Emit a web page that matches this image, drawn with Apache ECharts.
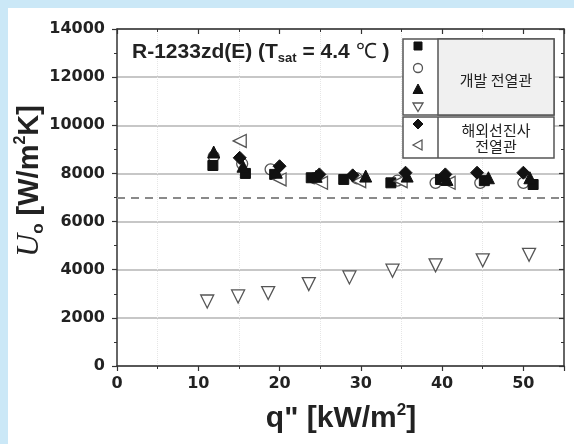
<!DOCTYPE html>
<html>
<head>
<meta charset="utf-8">
<script src="https://cdn.jsdelivr.net/npm/echarts@6/dist/echarts.min.js"></script>
<style>
  html, body { margin: 0; padding: 0; background: #cbe8f7; }
  #panel { position: absolute; left: 8px; top: 8px; width: 566px; height: 436px; background: #fff; }
  #chart { position: absolute; left: 0; top: 0; width: 574px; height: 444px; }
</style>
</head>
<body>
<div id="panel"></div>
<div id="chart"></div>
<script>
// [q'' (kW/m2), Uo (W/m2K)]
const devSquare = [[11.8, 8330], [15.8, 8000], [19.4, 7960], [23.9, 7820], [27.9, 7750], [33.7, 7610], [39.8, 7750], [45.2, 7700], [51.2, 7540]]
const devCircle = [[11.9, 8700], [15.4, 8400], [18.9, 8170], [24.3, 7800], [29.5, 7800], [34.5, 7700], [39.2, 7610], [44.7, 7610], [50.0, 7610]]
const devTriangle = [[11.9, 8890], [15.5, 8300], [19.6, 8050], [24.5, 7880], [30.6, 7890], [35.7, 7890], [40.6, 7750], [45.7, 7820], [50.8, 7820]]
const devDownTri = [[11.1, 2680], [14.9, 2890], [18.6, 3030], [23.6, 3400], [28.6, 3680], [33.9, 3960], [39.2, 4180], [45.0, 4390], [50.7, 4620]]
const frnDiamond = [[15.1, 8650], [20.0, 8300], [24.9, 7960], [29.0, 7920], [35.5, 8030], [40.4, 7960], [44.3, 8030], [50.0, 8030]]
const frnLeftTri = [[15.1, 9350], [20.0, 7750], [25.1, 7610], [29.8, 7680], [34.9, 7680], [40.8, 7610]]
const refLine = 7000

const font = 'Liberation Sans, Arial, sans-serif'
const kr = 'Noto Sans CJK KR, sans-serif'
const solid = { color: '#111', borderColor: '#111', borderWidth: 1, opacity: 1 }
const open = { color: '#fff', borderColor: '#555', borderWidth: 1.3, opacity: 1 }
const solidG = { fill: '#111', stroke: '#111', lineWidth: 1 }
const openG = { fill: '#fff', stroke: '#555', lineWidth: 1.3 }

const chart = echarts.init(document.getElementById('chart'))

const axisCommonX = {
  type: 'value', min: 0, max: 55, interval: 10,
  axisLine: { show: true, onZero: false, lineStyle: { color: '#333', width: 1.5 } },
  minorTick: { show: true, splitNumber: 2, length: 3, lineStyle: { color: '#333' } }
}
const axisCommonY = {
  type: 'value', min: 0, max: 14000, interval: 2000,
  axisLine: { show: true, onZero: false, lineStyle: { color: '#333', width: 1.5 } },
  minorTick: { show: true, splitNumber: 2, length: 3, lineStyle: { color: '#333' } }
}
// wide bold face for tick numbers
const tickFont = { fontFamily: 'DejaVu Sans', fontWeight: 'bold', fontSize: 16, color: '#222' }

chart.setOption({
  animation: false,
  grid: { left: 117, top: 29, right: 10, bottom: 78 },
  xAxis: [Object.assign({}, axisCommonX, {
    position: 'bottom',
    axisTick: { length: 5, lineStyle: { color: '#333', width: 1.2 } },
    axisLabel: Object.assign({ margin: 10, showMaxLabel: false, formatter: v => (v % 10 === 0 ? String(v) : '') }, tickFont),
    splitLine: { show: false },
    minorSplitLine: { show: true, lineStyle: { color: '#e6e6e6', type: 'dotted' } }
  }), Object.assign({}, axisCommonX, {
    position: 'top',
    axisTick: { inside: true, length: 5, lineStyle: { color: '#333', width: 1.2 } },
    axisLabel: { show: false },
    splitLine: { show: false }
  })],
  yAxis: [Object.assign({}, axisCommonY, {
    position: 'left',
    axisTick: { length: 5, lineStyle: { color: '#333', width: 1.2 } },
    axisLabel: Object.assign({ margin: 12, formatter: v => String(v) }, tickFont),
    splitLine: { show: true, lineStyle: { color: '#b4b4b4', width: 1.5 } }
  }), Object.assign({}, axisCommonY, {
    position: 'right',
    axisTick: { inside: true, length: 5, lineStyle: { color: '#333', width: 1.2 } },
    axisLabel: { show: false },
    splitLine: { show: false }
  })],
  series: [
    { name: 'sq', type: 'scatter', data: devSquare, symbol: 'rect', symbolSize: 10, itemStyle: solid, z: 3 },
    { name: 'ci', type: 'scatter', data: devCircle, symbol: 'circle', symbolSize: 11, itemStyle: open, z: 2 },
    { name: 'tr', type: 'scatter', data: devTriangle, symbol: 'triangle', symbolSize: 12, itemStyle: solid, z: 4 },
    { name: 'dt', type: 'scatter', data: devDownTri, symbol: 'triangle', symbolRotate: 180, symbolSize: 13, itemStyle: open, z: 2,
      markLine: {
        silent: true, symbol: 'none', label: { show: false },
        lineStyle: { color: '#8a8a8a', width: 2, type: [8, 6] },
        data: [{ yAxis: refLine }]
      }
    },
    { name: 'di', type: 'scatter', data: frnDiamond, symbol: 'diamond', symbolSize: 13, itemStyle: solid, z: 5 },
    { name: 'lt', type: 'scatter', data: frnLeftTri, symbol: 'triangle', symbolRotate: 90, symbolSize: 13, itemStyle: open, z: 3 }
  ],
  graphic: [
    // legend boxes
    { type: 'rect', z: 10, shape: { x: 403, y: 39, width: 151, height: 76 }, style: { fill: '#fff', stroke: '#555', lineWidth: 1.5 } },
    { type: 'rect', z: 11, shape: { x: 438, y: 39, width: 116, height: 76 }, style: { fill: '#f0f0f0', stroke: '#555', lineWidth: 1.5 } },
    { type: 'rect', z: 10, shape: { x: 403, y: 117, width: 151, height: 41 }, style: { fill: '#fff', stroke: '#555', lineWidth: 1.5 } },
    { type: 'line', z: 11, shape: { x1: 438, y1: 117, x2: 438, y2: 158 }, style: { stroke: '#555', lineWidth: 1.5 } },
    // legend glyphs
    { type: 'rect', z: 12, shape: { x: 414, y: 42, width: 8, height: 8 }, style: solidG },
    { type: 'circle', z: 12, shape: { cx: 418, cy: 68, r: 4.5 }, style: openG },
    { type: 'polygon', z: 12, shape: { points: [[418, 84], [423, 93.5], [413, 93.5]] }, style: solidG },
    { type: 'polygon', z: 12, shape: { points: [[413, 103], [423, 103], [418, 111.5]] }, style: openG },
    { type: 'polygon', z: 12, shape: { points: [[418, 119], [423, 124], [418, 129], [413, 124]] }, style: solidG },
    { type: 'polygon', z: 12, shape: { points: [[413, 145], [422, 140], [422, 150]] }, style: openG },
    { type: 'text', z: 12, x: 496, y: 80, style: { text: '개발 전열관', font: '15px ' + kr, fill: '#222', textAlign: 'center', textVerticalAlign: 'middle' } },
    { type: 'text', z: 12, x: 496, y: 138, style: { text: '해외선진사\n전열관', font: '15px ' + kr, fill: '#222', textAlign: 'center', textVerticalAlign: 'middle', lineHeight: 16 } },
    // title inside plot
    {
      type: 'text', z: 12, x: 132, y: 52,
      style: {
        text: '{a|R-1233zd(E) (T}{s|sat}{a| = 4.4 }{c|℃ }{a|)}',
        textVerticalAlign: 'middle',
        rich: {
          a: { fontFamily: font, fontWeight: 'bold', fontSize: 21, fill: '#222', lineHeight: 26 },
          s: { fontFamily: font, fontWeight: 'bold', fontSize: 13, fill: '#222', lineHeight: 26, verticalAlign: 'bottom', padding: [10, 0, 0, 0] },
          c: { fontFamily: font, fontSize: 21, fill: '#222', lineHeight: 26 }
        }
      }
    },
    // y axis title
    {
      type: 'text', z: 12, x: 30, y: 181, rotation: Math.PI / 2,
      style: {
        text: '{u|U}{o|o}{a| [W/m}{p|2}{a|K]}',
        textAlign: 'center', textVerticalAlign: 'middle',
        rich: {
          u: { fontFamily: 'Liberation Serif, serif', fontStyle: 'italic', fontSize: 32, fill: '#222', lineHeight: 34 },
          o: { fontFamily: font, fontWeight: 'bold', fontSize: 17, fill: '#222', lineHeight: 34, verticalAlign: 'bottom', padding: [12, 0, 0, 0] },
          a: { fontFamily: font, fontWeight: 'bold', fontSize: 29, fill: '#222', lineHeight: 34 },
          p: { fontFamily: font, fontWeight: 'bold', fontSize: 16, fill: '#222', lineHeight: 34, verticalAlign: 'top', padding: [0, 0, 13, 0] }
        }
      }
    },
    // x axis title
    {
      type: 'text', z: 12, x: 341, y: 419,
      style: {
        text: '{a|q" [kW/m}{p|2}{a|]}',
        textAlign: 'center', textVerticalAlign: 'middle',
        rich: {
          a: { fontFamily: font, fontWeight: 'bold', fontSize: 30, fill: '#222', lineHeight: 34 },
          p: { fontFamily: font, fontWeight: 'bold', fontSize: 17, fill: '#222', lineHeight: 34, verticalAlign: 'top', padding: [0, 0, 13, 0] }
        }
      }
    }
  ]
})
</script>
</body>
</html>
